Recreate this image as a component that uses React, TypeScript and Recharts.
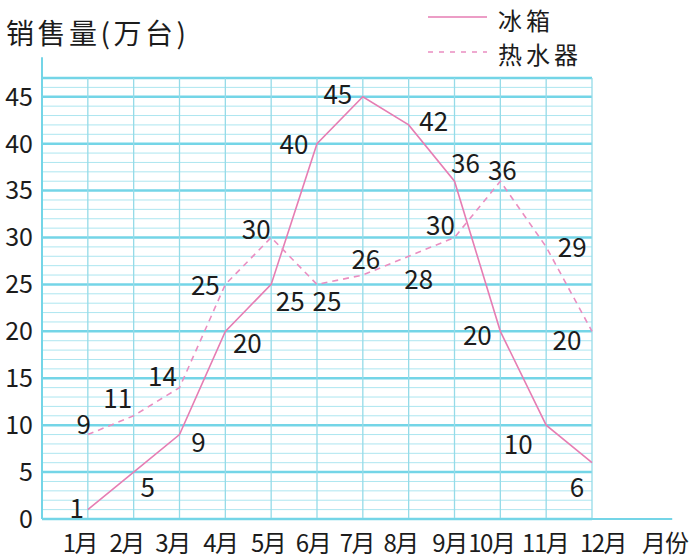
import { LineChart, Line, XAxis, YAxis, ReferenceLine } from "recharts";

const months = ["1月", "2月", "3月", "4月", "5月", "6月", "7月", "8月", "9月", "10月", "11月", "12月"];
const fridge = [1, 5, 9, 20, 25, 40, 45, 42, 36, 20, 10, 6];
const heater = [9, 11, 14, 25, 30, 25, 26, 28, 30, 36, 29, 20];
const yTicks = [0, 5, 10, 15, 20, 25, 30, 35, 40, 45];

// label placement relative to each point (dx, dy)
const fridgeLabelShift = [
  [-11, -3], [14, 13], [19, 6], [22, 10], [19, 15], [-23, -1],
  [-25, -4], [25, -5], [11, -20], [-23, 2], [-28, 17], [-15, 23],
];
const heaterLabelShift = [
  [-4, -12], [-16, -19], [-17, -13], [-20, -1], [-15, -10], [10, 15],
  [3, -18], [10, 21], [-14, -14], [2, -13], [26, -1], [-25, 7],
];
// month tick labels sit a bit off their grid lines
const monthTickShift = [-8, -7, -7, -5, -3, -4, -6, -8, -5, -9, -1, 11];

const FONT = "'Noto Sans CJK SC', 'Noto Sans', sans-serif";
const TEXT = "#1c1c1c";
const PINK = "#e67db3";
const PINK_DASH = "#ea8dc1";
const GRID_MINOR = "#ade6f0";
const GRID_MAJOR = "#74d5e7";

const data = months.map((m, i) => ({ month: i + 1, fridge: fridge[i], heater: heater[i] }));
const minorRows = Array.from({ length: 48 }, (_, i) => i);
const monthLines = Array.from({ length: 12 }, (_, i) => i + 1);

const makeLabel = (shift: number[][]) => (props: any) => {
  const { x, y, index, value } = props;
  const [dx, dy] = shift[index] || [0, 0];
  return (
    <text
      x={x + dx}
      y={y + dy}
      textAnchor="middle"
      dominantBaseline="central"
      fontSize={26}
      fontFamily={FONT}
      fill={TEXT}
    >
      {value}
    </text>
  );
};

const MonthTick = (props: any) => {
  const { x, payload } = props;
  const m = payload.value as number;
  return (
    <text
      x={x + (monthTickShift[m - 1] ?? 0)}
      y={541}
      textAnchor="middle"
      dominantBaseline="central"
      fontSize={24}
      letterSpacing={-1.5}
      fontFamily={FONT}
      fill={TEXT}
    >
      {months[m - 1]}
    </text>
  );
};

export default function App() {
  return (
    <div style={{ position: "absolute", left: 0, top: 0, width: 689, height: 558, background: "#fff" }}>
      <LineChart
        width={689}
        height={558}
        data={data}
        margin={{ top: 78, right: 97, bottom: 0, left: 0 }}
      >
        {minorRows.map(v => (
          <ReferenceLine
            key={"h" + v}
            y={v}
            stroke={v % 5 === 0 || v === 47 ? GRID_MAJOR : GRID_MINOR}
            strokeWidth={v % 5 === 0 || v === 47 ? 2.5 : 1}
          />
        ))}
        {monthLines.map(m => (
          <ReferenceLine key={"v" + m} x={m} stroke="#95dbe8" strokeWidth={1.3} />
        ))}
        <ReferenceLine
          segment={[{ x: 0, y: 0 }, { x: 0, y: 49.2 }]}
          stroke={GRID_MAJOR}
          strokeWidth={2}
          ifOverflow="visible"
        />
        <ReferenceLine
          segment={[{ x: 0, y: 0 }, { x: 13.75, y: 0 }]}
          stroke={GRID_MAJOR}
          strokeWidth={2}
          ifOverflow="visible"
        />
        <XAxis
          dataKey="month"
          type="number"
          domain={[0, 12]}
          ticks={monthLines}
          axisLine={false}
          tickLine={false}
          height={39}
          interval={0}
          tick={<MonthTick />}
        />
        <YAxis
          type="number"
          domain={[0, 47]}
          ticks={yTicks}
          axisLine={false}
          tickLine={false}
          tickMargin={3}
          width={42}
          interval={0}
          tick={{ fontSize: 25, fill: TEXT, fontFamily: FONT }}
        />
        <Line
          dataKey="fridge"
          stroke={PINK}
          strokeWidth={1.6}
          dot={false}
          isAnimationActive={false}
          label={makeLabel(fridgeLabelShift)}
        />
        <Line
          dataKey="heater"
          stroke={PINK_DASH}
          strokeWidth={1.6}
          strokeDasharray="6 5"
          dot={false}
          isAnimationActive={false}
          label={makeLabel(heaterLabelShift)}
        />
      </LineChart>
      <svg width={689} height={558} style={{ position: "absolute", left: 0, top: 0, pointerEvents: "none" }}>
        <text x={6} y={32} dominantBaseline="central" fontSize={28} letterSpacing={3.5} fontFamily={FONT} fill={TEXT}>
          销售量(万台)
        </text>
        <line x1={428} y1={17} x2={487} y2={17} stroke={PINK} strokeWidth={1.6} />
        <text x={498} y={19} dominantBaseline="central" fontSize={24} letterSpacing={4} fontFamily={FONT} fill={TEXT}>
          冰箱
        </text>
        <line x1={428} y1={52} x2={487} y2={52} stroke={PINK_DASH} strokeWidth={1.6} strokeDasharray="5 6" />
        <text x={498} y={53} dominantBaseline="central" fontSize={24} letterSpacing={4} fontFamily={FONT} fill={TEXT}>
          热水器
        </text>
        <text x={665} y={541} textAnchor="middle" dominantBaseline="central" fontSize={24} letterSpacing={-1} fontFamily={FONT} fill={TEXT}>
          月份
        </text>
      </svg>
    </div>
  );
}
